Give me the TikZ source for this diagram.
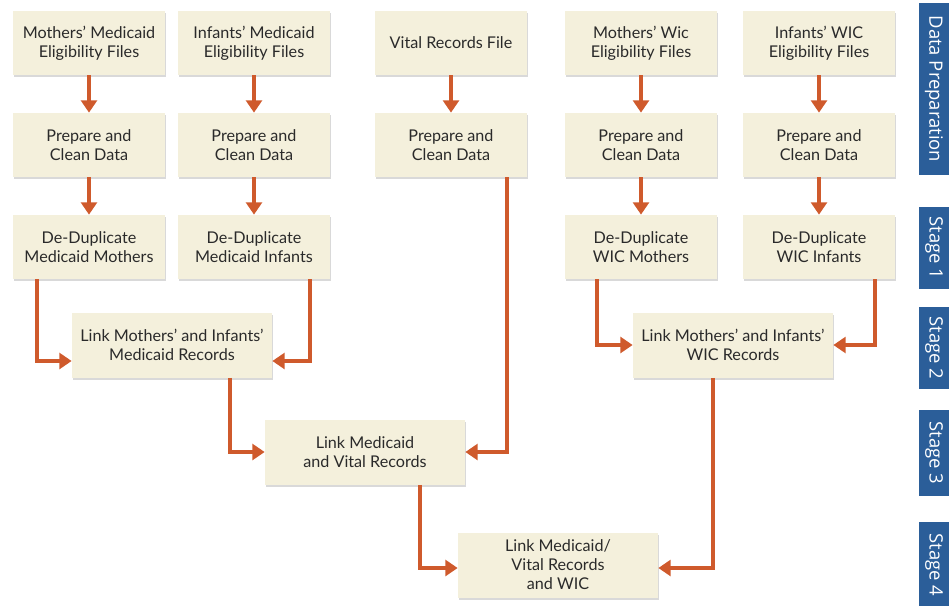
\documentclass[tikz,border=0pt]{standalone}
\usepackage{fontspec}
\setmainfont{Lato}
\newfontfamily\tabfont{Open Sans}
\usetikzlibrary{positioning, arrows.meta, shadows}
\definecolor{boxfill}{HTML}{F4F0DC}
\definecolor{flowred}{HTML}{CF5A2C}
\definecolor{tabblue}{HTML}{2B5E99}
\definecolor{boxtext}{HTML}{2A2A2A}

\tikzset{
  stepbox/.style={fill=boxfill, text=boxtext, minimum width=3.04cm, minimum height=1.28cm,
    align=center, inner sep=2pt, font=\fontsize{9.2}{10.8}\selectfont,
    drop shadow={shadow xshift=0.6pt, shadow yshift=-1.2pt, opacity=0.25, fill=black!60}},
  linkbox/.style={stepbox, minimum width=4cm, minimum height=1.3cm},
  flow/.style={draw=flowred, line width=2pt, -{Triangle[width=9pt, length=7pt]}},
  tab/.style={fill=tabblue, text=white, rotate=-90, minimum height=0.6cm, inner sep=0pt,
    font=\tabfont\fontsize{10.5}{12}\selectfont},
}

\begin{document}
\begin{tikzpicture}[x=0.02cm, y=-0.02cm]
\useasboundingbox (0,0) rectangle (949,605);

% data preparation
\node[stepbox] (mmf) at (89,43)  {Mothers’ Medicaid\\Eligibility Files};
\node[stepbox] (imf) at (254,43) {Infants’ Medicaid\\Eligibility Files};
\node[stepbox] (vrf) at (451,43) {Vital Records File};
\node[stepbox] (mwf) at (641,43) {Mothers’ Wic\\Eligibility Files};
\node[stepbox] (iwf) at (819,43) {Infants’ WIC\\Eligibility Files};

\node[stepbox] (mmc) at (89,145)  {Prepare and\\Clean Data};
\node[stepbox] (imc) at (254,145) {Prepare and\\Clean Data};
\node[stepbox] (vrc) at (451,145) {Prepare and\\Clean Data};
\node[stepbox] (mwc) at (641,145) {Prepare and\\Clean Data};
\node[stepbox] (iwc) at (819,145) {Prepare and\\Clean Data};

% stage 1
\node[stepbox] (mmd) at (89,247)  {De-Duplicate\\Medicaid Mothers};
\node[stepbox] (imd) at (254,247) {De-Duplicate\\Medicaid Infants};
\node[stepbox] (mwd) at (641,247) {De-Duplicate\\WIC Mothers};
\node[stepbox] (iwd) at (819,247) {De-Duplicate\\WIC Infants};

% stages 2 to 4
\node[linkbox] (lmm) at (172,345) {Link Mothers’ and Infants’\\Medicaid Records};
\node[linkbox] (lwic) at (733,345) {Link Mothers’ and Infants’\\WIC Records};
\node[linkbox] (lmv) at (365,452) {Link Medicaid\\and Vital Records};
\node[linkbox] (lall) at (558,565) {Link Medicaid/\\Vital Records\\and WIC};

\foreach \a/\b in {mmf/mmc, imf/imc, vrf/vrc, mwf/mwc, iwf/iwc,
                   mmc/mmd, imc/imd, mwc/mwd, iwc/iwd}
  \draw[flow] (\a) -- (\b);

\draw[flow] ([xshift=-1.04cm]mmd.south) |- ([yshift=-0.32cm]lmm.west);
\draw[flow] ([xshift=1.12cm]imd.south) |- ([yshift=-0.32cm]lmm.east);
\draw[flow] ([xshift=-0.88cm]mwd.south) |- (lwic.west);
\draw[flow] ([xshift=1.12cm]iwd.south) |- (lwic.east);
\draw[flow] ([xshift=1.12cm]vrc.south) |- (lmv.east);
\draw[flow] ([xshift=1.16cm]lmm.south) |- (lmv.west);
\draw[flow] ([xshift=1.1cm]lmv.south) |- ([yshift=-0.06cm]lall.west);
\draw[flow] ([xshift=-0.4cm]lwic.south) |- ([yshift=-0.06cm]lall.east);

% stage tabs
\node[tab, minimum width=3.44cm] (tprep) at (934,89)  {Data Preparation};
\node[tab, minimum width=1.66cm] (tone)  at (934,248) {Stage 1};
\node[tab, minimum width=1.66cm] (ttwo)  at (934,348) {Stage 2};
\node[tab, minimum width=1.72cm] (tthr)  at (934,453) {Stage 3};
\node[tab, minimum width=1.72cm] (tfour) at (934,565) {Stage 4};
\end{tikzpicture}
\end{document}
